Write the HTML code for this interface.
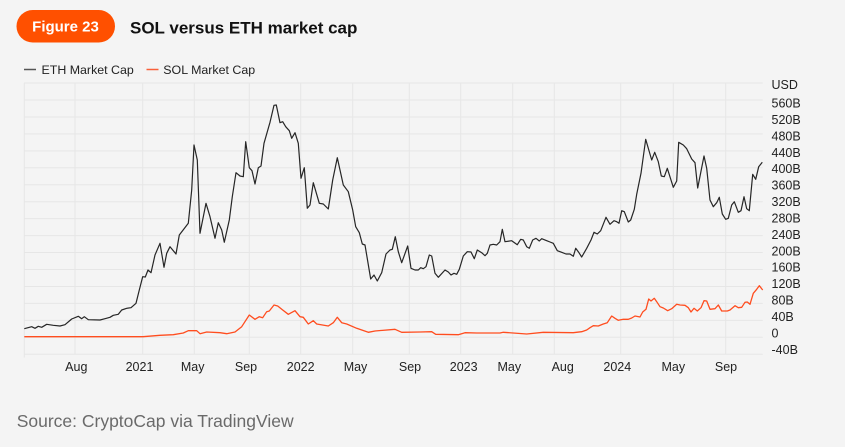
<!DOCTYPE html>
<html>
<head>
<meta charset="utf-8">
<style>
  html, body { margin:0; padding:0; background:#f4f4f4; }
  body { width:845px; height:447px; overflow:hidden; }
  svg { display:block; font-family:"Liberation Sans", Arial, sans-serif; }
</style>
</head>
<body>
<svg width="845" height="447" viewBox="0 0 845 447" xmlns="http://www.w3.org/2000/svg">
  <rect x="0" y="0" width="845" height="447" fill="#f4f4f4"/>

  <!-- Header -->
  <rect x="16.5" y="10" width="98.5" height="32.5" rx="16.25" ry="16.25" fill="#ff5000"/>
  <text x="65.5" y="31.5" font-size="15" font-weight="bold" fill="#ffffff" text-anchor="middle">Figure 23</text>
  <text x="130" y="33.5" font-size="17" font-weight="bold" fill="#111111">SOL versus ETH market cap</text>

  <!-- Legend -->
  <line x1="24" y1="69.5" x2="36" y2="69.5" stroke="#555555" stroke-width="1.5"/>
  <text x="41.5" y="73.8" font-size="12.4" fill="#222222">ETH Market Cap</text>
  <line x1="146.5" y1="69.5" x2="158.5" y2="69.5" stroke="#f9603a" stroke-width="1.5"/>
  <text x="163.3" y="73.8" font-size="12.4" fill="#222222">SOL Market Cap</text>

  <!-- Horizontal gridlines -->
  <g stroke="#e6e6e6" stroke-width="1">
    <line x1="24" y1="83.05" x2="762.7" y2="83.05"/>
    <line x1="24" y1="100" x2="762.7" y2="100"/>
    <line x1="24" y1="116.95" x2="762.7" y2="116.95"/>
    <line x1="24" y1="133.9" x2="762.7" y2="133.9"/>
    <line x1="24" y1="150.85" x2="762.7" y2="150.85"/>
    <line x1="24" y1="167.8" x2="762.7" y2="167.8"/>
    <line x1="24" y1="184.75" x2="762.7" y2="184.75"/>
    <line x1="24" y1="201.7" x2="762.7" y2="201.7"/>
    <line x1="24" y1="218.65" x2="762.7" y2="218.65"/>
    <line x1="24" y1="235.6" x2="762.7" y2="235.6"/>
    <line x1="24" y1="252.55" x2="762.7" y2="252.55"/>
    <line x1="24" y1="269.5" x2="762.7" y2="269.5"/>
    <line x1="24" y1="286.45" x2="762.7" y2="286.45"/>
    <line x1="24" y1="303.4" x2="762.7" y2="303.4"/>
    <line x1="24" y1="320.35" x2="762.7" y2="320.35"/>
    <line x1="24" y1="337.3" x2="762.7" y2="337.3"/>
    <line x1="24" y1="354.25" x2="762.7" y2="354.25"/>
  </g>
  <!-- Vertical gridlines -->
  <g stroke="#e6e6e6" stroke-width="1">
    <line x1="24.3" y1="83" x2="24.3" y2="357.5"/>
    <line x1="75" y1="83" x2="75" y2="354.3"/>
    <line x1="142.7" y1="83" x2="142.7" y2="354.3"/>
    <line x1="194.3" y1="83" x2="194.3" y2="354.3"/>
    <line x1="249.3" y1="83" x2="249.3" y2="354.3"/>
    <line x1="300.7" y1="83" x2="300.7" y2="354.3"/>
    <line x1="352.7" y1="83" x2="352.7" y2="354.3"/>
    <line x1="409.3" y1="83" x2="409.3" y2="354.3"/>
    <line x1="460.7" y1="83" x2="460.7" y2="354.3"/>
    <line x1="512.7" y1="83" x2="512.7" y2="354.3"/>
    <line x1="554.3" y1="83" x2="554.3" y2="354.3"/>
    <line x1="620.7" y1="83" x2="620.7" y2="354.3"/>
    <line x1="673.3" y1="83" x2="673.3" y2="354.3"/>
    <line x1="725.7" y1="83" x2="725.7" y2="354.3"/>
  </g>

  <!-- Y axis labels -->
  <g font-size="12.5" fill="#222222">
    <text x="771.5" y="89.2">USD</text>
    <text x="771.5" y="107.5">560B</text>
    <text x="771.5" y="123.9">520B</text>
    <text x="771.5" y="140.3">480B</text>
    <text x="771.5" y="156.8">440B</text>
    <text x="771.5" y="173.2">400B</text>
    <text x="771.5" y="189.6">360B</text>
    <text x="771.5" y="206.0">320B</text>
    <text x="771.5" y="222.4">280B</text>
    <text x="771.5" y="238.9">240B</text>
    <text x="771.5" y="255.3">200B</text>
    <text x="771.5" y="271.7">160B</text>
    <text x="771.5" y="288.1">120B</text>
    <text x="771.5" y="304.5">80B</text>
    <text x="771.5" y="321.0">40B</text>
    <text x="771.5" y="337.4">0</text>
    <text x="771.5" y="353.8">-40B</text>
  </g>

  <!-- X axis labels -->
  <g font-size="12.5" fill="#222222" text-anchor="middle">
    <text x="76.3" y="371.2">Aug</text>
    <text x="139.5" y="371.2">2021</text>
    <text x="192.7" y="371.2">May</text>
    <text x="246" y="371.2">Sep</text>
    <text x="300.7" y="371.2">2022</text>
    <text x="355.5" y="371.2">May</text>
    <text x="410" y="371.2">Sep</text>
    <text x="463.7" y="371.2">2023</text>
    <text x="509.3" y="371.2">May</text>
    <text x="562.7" y="371.2">Aug</text>
    <text x="617.3" y="371.2">2024</text>
    <text x="673.3" y="371.2">May</text>
    <text x="726" y="371.2">Sep</text>
  </g>

  <!-- SOL series -->
  <polyline fill="none" stroke="#ff4d1f" stroke-width="1.3" stroke-linejoin="round" points="24.3,336.7 143,336.7 160,335.3 173.3,334.7 183.3,333 188.3,330.7 196.7,330.7 200,333.7 206.7,332 220,332.7 226.7,333.7 235,332 241.7,326.7 249.3,315 255,319.3 259.3,316.7 262.7,317.7 266.7,311.7 269.3,311 274,305 277.7,306 282.7,310 288.3,314.3 295,310.7 300,316.7 303.3,317.3 308.3,324 313.3,320.7 316.7,324 328.3,326 333.3,322.7 337.3,317.3 341.7,322.7 346.7,324 356.7,328.3 368.3,332.3 375,331 395,329.3 401.7,332.3 420,332 431.7,331.7 435.7,334.3 458.3,334.7 465,332.7 476.7,333 500,333 503.3,332.3 526.7,334 543.3,332.3 573.3,332.7 581.7,331.7 586.7,330 590,327.7 593.3,325.7 598.3,326 603.3,324 607.3,322.7 611.7,316 615,318.3 618.3,320.3 623.3,319.3 628.3,319.3 631.7,318 635,316 640,317 642.7,312 646,309.3 648.7,299 651,301 654.3,298.3 656.7,301.7 660,306.7 663.3,308 667.7,310.7 671.7,308.7 676.7,304.3 680,305 685,305.3 688.3,307.7 691,312 694,308.3 697.3,311 701,307.7 704,300.7 706.7,301 710,309.3 715,308.7 718.3,305 721.7,311 727.3,311 730,310 735,305.7 738.3,307.7 741.7,307.3 745,302.3 747.3,302 750,304.3 753.3,293.3 756.7,289.3 759.3,285.7 762.7,290"/>

  <!-- ETH series -->
  <polyline fill="none" stroke="#262626" stroke-width="1.2" stroke-linejoin="round" points="24.3,328.7 31.7,326.7 35,328.3 38.3,326.3 41.7,327.3 46.7,324.3 53.3,325.3 60,326 65,324.7 71.7,319 78.3,316.3 81.7,318.7 84.3,316.7 88.3,319.7 100,320 105,318.7 110,317.3 113.3,315.3 118.3,314.3 121.7,310 126.7,308.3 131,307.7 136,303.3 139.3,290 142.7,276.7 145.3,277 148,270 151,272.7 155,255 160,243.3 164,267.3 166.7,253.3 170,246.7 176,254 179.3,235 188.3,223.3 191.7,190 194,145 197.3,160 200,233.3 206,203.3 210,216.7 215,238.3 218.3,222.7 221.7,230 224.3,242.3 229.3,220 232.3,196.7 236,172.7 240,176 243.3,176.7 245.7,141.7 249.3,167.7 252,170.7 255,184 258.3,167.7 261,166 264,143.3 270,122.3 274,105.3 276.3,105 280,122.7 282.7,121.7 285.7,126.7 289.3,130.7 291.7,138.3 295,132.7 298.3,143.3 301,178.3 304.3,167.7 307.3,208.3 310,205 313.3,182.7 319.3,203.3 323.3,204 328.3,209 332.7,180 337.3,157.7 343.3,185 348.3,191.7 352.7,210 355.7,226.7 359.3,232.7 362.3,244 365,245 370.7,279 374,275 377.3,281 381.7,272.7 386,254 390,250 392.3,249.3 395.3,236.7 398.3,251.7 401.7,262.7 407.7,246 411,268.3 415,270 418.3,270 420.7,267.7 423.3,268.7 426,266.7 429.3,255 431.7,256 435,273.3 438.3,277.3 445,270 448.3,272 451,275 454,273.3 456.7,274.3 459.3,269.3 463.3,256 467.3,251.7 471,252 474.3,258.7 477.3,250 481.7,252.7 485,255.7 487.3,253.3 490,245 493.3,244.3 496.7,245 500,241.7 502.3,229.3 505,241.7 511.7,240.7 517.3,244.7 520.7,239.3 523.3,240 526.7,246.7 529.3,248.3 532.7,240 536,238.3 539.3,241 541.7,238.7 546.7,240.7 550,242 553.3,243.3 557.3,250.7 561.7,252.3 566,254 570,254 573.3,256.3 575.7,248.3 578.3,251.7 581.7,257 586.7,248.3 591,240 594,232.3 597.3,234 600.7,230.7 606,217.3 610,224.3 614,220.7 616.7,221.7 619,223.3 621.7,210.7 624.3,211.7 628.3,222 630.7,220 634.3,209.3 636.7,194.3 641,173.3 645.7,139.3 651.7,160 654.7,152.3 658.3,161.7 661.3,176 664.3,176.7 667.3,168.3 673.3,187.3 676.7,181 678.7,142.3 683.3,145 686.7,148.7 691.7,159 695,162.7 697.7,188 704,156 706.7,168.3 710,200 713.3,206.7 716.7,202.7 719.3,197.3 722.3,214 725.7,219.3 728.3,218.3 731.7,205 734.3,201.7 738.3,212.3 741,210.7 744,196.7 746.7,208.7 749.3,210.7 752.7,174.3 755.7,179.3 758.7,166.7 762.3,162.3"/>

  <!-- Source -->
  <text x="16.7" y="426.8" font-size="17.5" fill="#6a6a6a">Source: CryptoCap via TradingView</text>
</svg>
</body>
</html>
